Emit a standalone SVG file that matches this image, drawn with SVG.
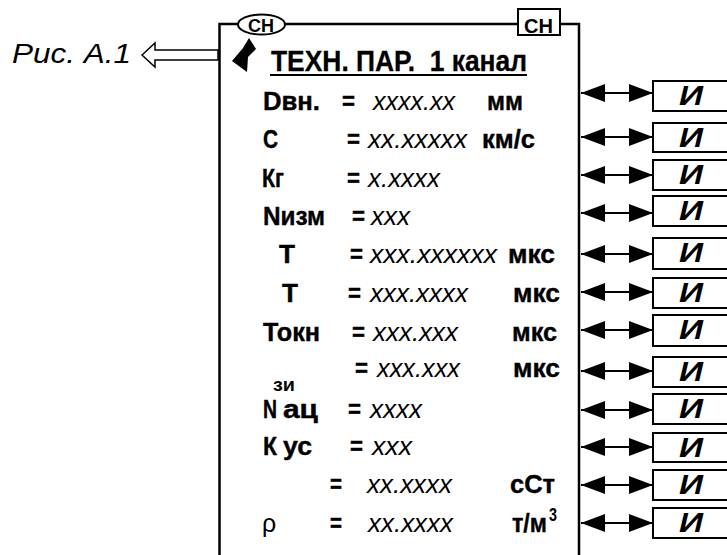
<svg xmlns="http://www.w3.org/2000/svg" width="727" height="555" viewBox="0 0 727 555">
<style>
  .ln{fill:none;stroke:#000;stroke-width:2.5}
  .bx{fill:#fff;stroke:#000;stroke-width:2}
  text{font-family:"Liberation Sans",Arial,sans-serif;fill:#000}
  .b{font-weight:bold;font-size:25.5px;stroke:#000;stroke-width:0.4}
  .v{font-style:italic;font-size:25px}
  .r{font-size:25px}
  .t{font-weight:bold;font-size:30px;white-space:pre;stroke:#000;stroke-width:0.3}
  .s{font-weight:bold;font-size:18px}
  .c1{font-weight:bold;font-size:18px}
  .c2{font-weight:bold;font-size:20px}
  .ref{font-style:italic;font-size:28px}
  .i{font-style:italic;font-weight:bold;font-size:27px}
  .ar{fill:none;stroke:#000;stroke-width:1.8;marker-start:url(#ah);marker-end:url(#ah)}
</style>
<defs>
  <marker id="ah" viewBox="0 0 24 18" refX="24" refY="9" markerWidth="24" markerHeight="18" markerUnits="userSpaceOnUse" orient="auto-start-reverse">
    <path d="M0,0 L24,9 L0,18 z" fill="#000"/>
  </marker>
</defs>
<rect width="727" height="555" fill="#fff"/>

<g id="menu">
  <path class="ln" d="M219.5,555 V24 H238 M285,24 H518 M560,24 H579 V555"/>
  <path d="M249,38 L256,49 L248,57 L247,72 L232,61 L243,48 Z" fill="#000"/>
  <text class="t" x="271" y="71" textLength="256" lengthAdjust="spacingAndGlyphs">ТЕХН. ПАР.  1 канал</text>
  <line x1="270" y1="75" x2="527" y2="75" stroke="#000" stroke-width="2"/>

  <text class="b" x="263" y="110" textLength="57" lengthAdjust="spacingAndGlyphs">Dвн.</text>
  <text class="b" x="342" y="110" textLength="13" lengthAdjust="spacingAndGlyphs">=</text>
  <text class="v" x="373" y="110" textLength="82" lengthAdjust="spacingAndGlyphs">xxxx.xx</text>
  <text class="b" x="487" y="110" textLength="36" lengthAdjust="spacingAndGlyphs">мм</text>

  <text class="b" x="263" y="148" textLength="15" lengthAdjust="spacingAndGlyphs">C</text>
  <text class="b" x="347" y="148" textLength="13" lengthAdjust="spacingAndGlyphs">=</text>
  <text class="v" x="368" y="148" textLength="99" lengthAdjust="spacingAndGlyphs">xx.xxxxx</text>
  <text class="b" x="482" y="148" textLength="53" lengthAdjust="spacingAndGlyphs">км/с</text>

  <text class="b" x="262" y="187" textLength="22" lengthAdjust="spacingAndGlyphs">Кг</text>
  <text class="b" x="347" y="187" textLength="13" lengthAdjust="spacingAndGlyphs">=</text>
  <text class="v" x="368" y="187" textLength="72" lengthAdjust="spacingAndGlyphs">x.xxxx</text>

  <text class="b" x="263" y="225" textLength="62" lengthAdjust="spacingAndGlyphs">Nизм</text>
  <text class="b" x="352" y="225" textLength="13" lengthAdjust="spacingAndGlyphs">=</text>
  <text class="v" x="371" y="225" textLength="39" lengthAdjust="spacingAndGlyphs">xxx</text>

  <text class="b" x="279" y="263" textLength="16" lengthAdjust="spacingAndGlyphs">T</text>
  <text class="b" x="350" y="263" textLength="13" lengthAdjust="spacingAndGlyphs">=</text>
  <text class="v" x="370" y="263" textLength="127" lengthAdjust="spacingAndGlyphs">xxx.xxxxxx</text>
  <text class="b" x="508" y="263" textLength="47" lengthAdjust="spacingAndGlyphs">мкс</text>

  <text class="b" x="282" y="302" textLength="16" lengthAdjust="spacingAndGlyphs">T</text>
  <text class="b" x="348" y="302" textLength="13" lengthAdjust="spacingAndGlyphs">=</text>
  <text class="v" x="370" y="302" textLength="98" lengthAdjust="spacingAndGlyphs">xxx.xxxx</text>
  <text class="b" x="513" y="302" textLength="47" lengthAdjust="spacingAndGlyphs">мкс</text>

  <text class="b" x="263" y="341" textLength="57" lengthAdjust="spacingAndGlyphs">Токн</text>
  <text class="b" x="352" y="341" textLength="13" lengthAdjust="spacingAndGlyphs">=</text>
  <text class="v" x="373" y="341" textLength="85" lengthAdjust="spacingAndGlyphs">xxx.xxx</text>
  <text class="b" x="512" y="341" textLength="45" lengthAdjust="spacingAndGlyphs">мкс</text>

  <text class="b" x="355" y="377" textLength="13" lengthAdjust="spacingAndGlyphs">=</text>
  <text class="v" x="377" y="377" textLength="83" lengthAdjust="spacingAndGlyphs">xxx.xxx</text>
  <text class="b" x="513" y="377" textLength="47" lengthAdjust="spacingAndGlyphs">мкс</text>

  <text class="s" x="273" y="391" textLength="22" lengthAdjust="spacingAndGlyphs">зи</text>
  <text class="b" x="263" y="418" textLength="14" lengthAdjust="spacingAndGlyphs">N</text>
  <text class="b" x="283" y="418" textLength="35" lengthAdjust="spacingAndGlyphs">ац</text>
  <text class="b" x="348" y="418" textLength="13" lengthAdjust="spacingAndGlyphs">=</text>
  <text class="v" x="370" y="418" textLength="52" lengthAdjust="spacingAndGlyphs">xxxx</text>

  <text class="b" x="263" y="455" textLength="14" lengthAdjust="spacingAndGlyphs">К</text>
  <text class="b" x="283" y="455" textLength="29" lengthAdjust="spacingAndGlyphs">ус</text>
  <text class="b" x="350" y="455" textLength="13" lengthAdjust="spacingAndGlyphs">=</text>
  <text class="v" x="372" y="455" textLength="40" lengthAdjust="spacingAndGlyphs">xxx</text>

  <text class="b" x="330" y="493" textLength="12" lengthAdjust="spacingAndGlyphs">=</text>
  <text class="v" x="367" y="493" textLength="85" lengthAdjust="spacingAndGlyphs">xx.xxxx</text>
  <text class="b" x="510" y="493" textLength="45" lengthAdjust="spacingAndGlyphs">сСт</text>

  <text class="r" x="262" y="532">ρ</text>
  <text class="b" x="330" y="532" textLength="12" lengthAdjust="spacingAndGlyphs">=</text>
  <text class="v" x="368" y="532" textLength="85" lengthAdjust="spacingAndGlyphs">xx.xxxx</text>
  <text class="b" x="512" y="532" textLength="35" lengthAdjust="spacingAndGlyphs">т/м</text>
  <text class="s" x="549" y="521" textLength="8" lengthAdjust="spacingAndGlyphs">3</text>
</g>

<g id="cn-left">
  <ellipse cx="261.5" cy="24.5" rx="23.5" ry="10" fill="#fff" stroke="#000" stroke-width="2"/>
  <text class="c1" x="248" y="32" textLength="26" lengthAdjust="spacingAndGlyphs">СН</text>
</g>

<g id="cn-right">
  <rect class="bx" x="518" y="9" width="42" height="26"/>
  <text class="c2" x="524" y="33" textLength="29" lengthAdjust="spacingAndGlyphs">СН</text>
</g>

<g id="ref">
  <text class="ref" x="12" y="63" textLength="119" lengthAdjust="spacingAndGlyphs">Рис. А.1</text>
</g>

<g id="i1"><rect class="bx" x="653" y="81" width="90" height="30"/><text class="i" x="679" y="105" textLength="24" lengthAdjust="spacingAndGlyphs">И</text></g>
<g id="i2"><rect class="bx" x="653" y="123" width="90" height="29"/><text class="i" x="679" y="147" textLength="24" lengthAdjust="spacingAndGlyphs">И</text></g>
<g id="i3"><rect class="bx" x="653" y="160" width="90" height="30"/><text class="i" x="679" y="184" textLength="24" lengthAdjust="spacingAndGlyphs">И</text></g>
<g id="i4"><rect class="bx" x="653" y="196" width="90" height="30"/><text class="i" x="679" y="220" textLength="24" lengthAdjust="spacingAndGlyphs">И</text></g>
<g id="i5"><rect class="bx" x="653" y="238" width="90" height="31"/><text class="i" x="679" y="262" textLength="24" lengthAdjust="spacingAndGlyphs">И</text></g>
<g id="i6"><rect class="bx" x="653" y="278" width="90" height="30"/><text class="i" x="679" y="302" textLength="24" lengthAdjust="spacingAndGlyphs">И</text></g>
<g id="i7"><rect class="bx" x="653" y="315" width="90" height="31"/><text class="i" x="679" y="339" textLength="24" lengthAdjust="spacingAndGlyphs">И</text></g>
<g id="i8"><rect class="bx" x="653" y="357" width="90" height="30"/><text class="i" x="679" y="381" textLength="24" lengthAdjust="spacingAndGlyphs">И</text></g>
<g id="i9"><rect class="bx" x="653" y="394" width="90" height="30"/><text class="i" x="679" y="418" textLength="24" lengthAdjust="spacingAndGlyphs">И</text></g>
<g id="i10"><rect class="bx" x="653" y="433" width="90" height="29"/><text class="i" x="679" y="457" textLength="24" lengthAdjust="spacingAndGlyphs">И</text></g>
<g id="i11"><rect class="bx" x="653" y="470" width="90" height="30"/><text class="i" x="679" y="494" textLength="24" lengthAdjust="spacingAndGlyphs">И</text></g>
<g id="i12"><rect class="bx" x="653" y="508" width="90" height="30"/><text class="i" x="679" y="532" textLength="24" lengthAdjust="spacingAndGlyphs">И</text></g>

<g id="connectors">
  <path d="M142,55 L155,43 V50 H218 V60 H155 V67 Z" fill="#fff" stroke="#000" stroke-width="1.5"/>
  <line class="ar" x1="581" y1="93" x2="653" y2="93"/>
  <line class="ar" x1="581" y1="137" x2="653" y2="137"/>
  <line class="ar" x1="581" y1="175" x2="653" y2="175"/>
  <line class="ar" x1="581" y1="213" x2="653" y2="213"/>
  <line class="ar" x1="581" y1="254" x2="653" y2="254"/>
  <line class="ar" x1="581" y1="292" x2="653" y2="292"/>
  <line class="ar" x1="581" y1="330" x2="653" y2="330"/>
  <line class="ar" x1="581" y1="371" x2="653" y2="371"/>
  <line class="ar" x1="581" y1="410" x2="653" y2="410"/>
  <line class="ar" x1="581" y1="447" x2="653" y2="447"/>
  <line class="ar" x1="581" y1="485" x2="653" y2="485"/>
  <line class="ar" x1="581" y1="523" x2="653" y2="523"/>
</g>
</svg>
